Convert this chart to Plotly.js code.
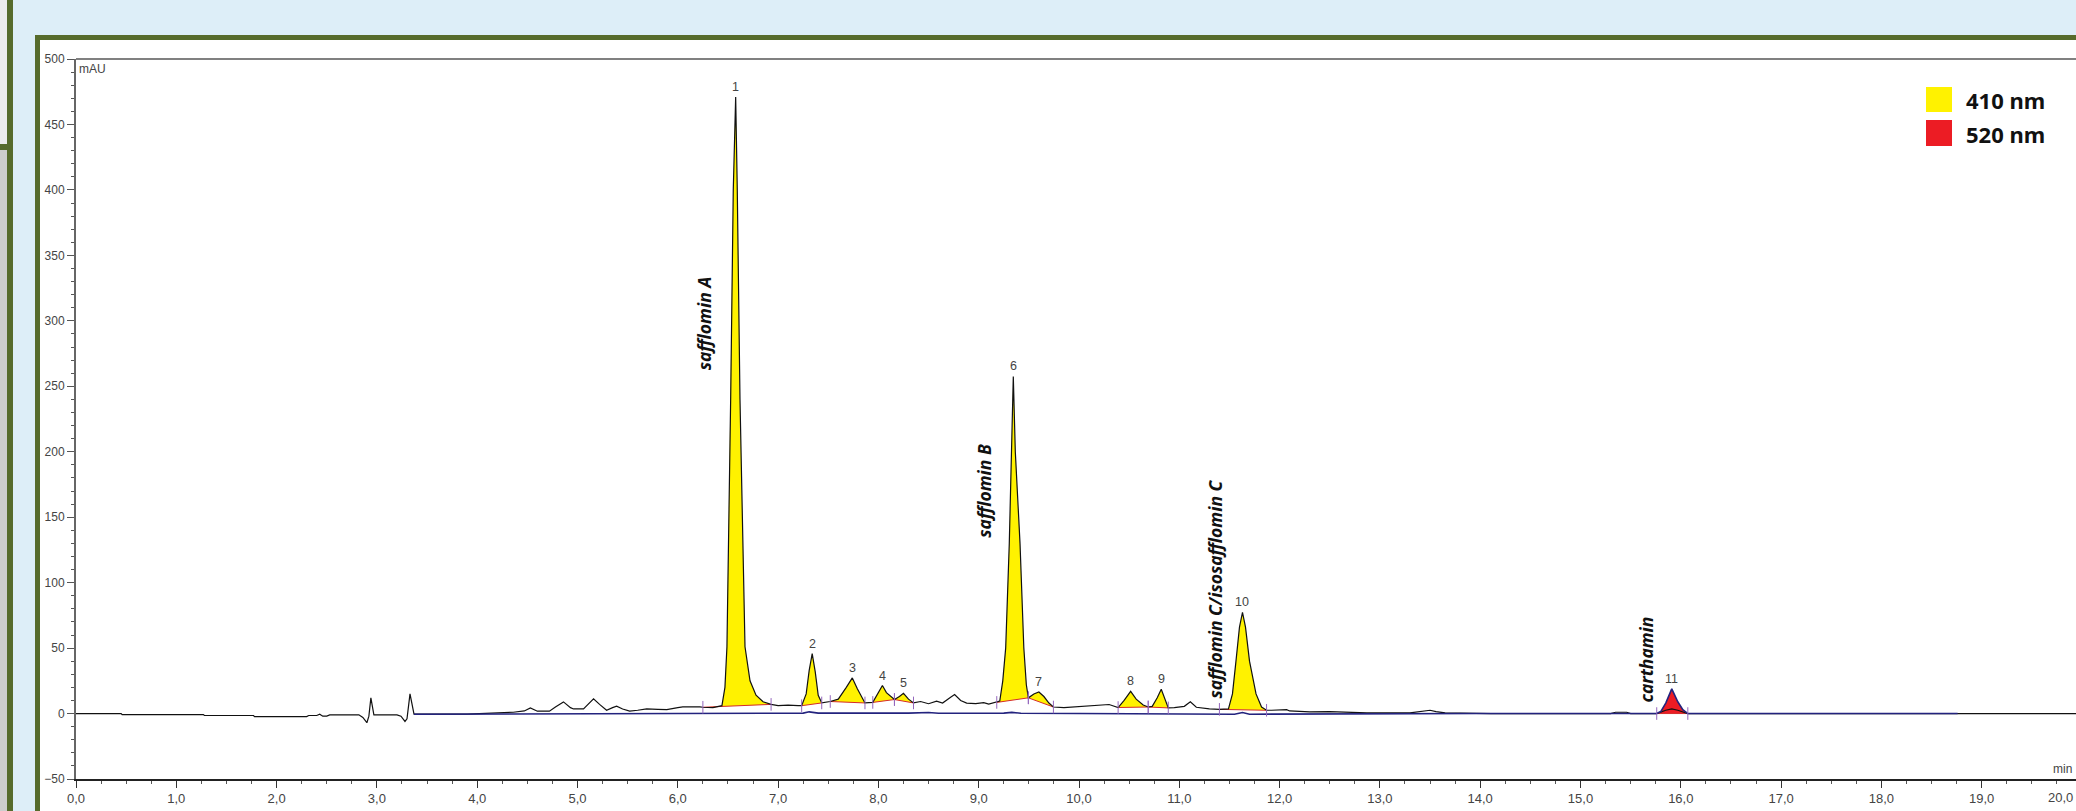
<!DOCTYPE html>
<html>
<head>
<meta charset="utf-8">
<script src="https://cdn.plot.ly/plotly-3.0.1.min.js"></script>
<style>html,body{margin:0;padding:0;background:#ddeef8;}#chart{width:2076px;height:811px;}</style>
</head>
<body>
<div id="chart"></div>
<script>
// ---- Data: 410 nm signal (retention time in min, absorbance in mAU) ----
const t410 = [
  0.00,0.45,0.46,1.27,1.28,1.77,1.78,2.30,2.32,2.40,
  2.43,2.46,2.50,2.53,2.82,2.86,2.90,2.92,2.94,2.95,
  2.97,3.20,3.24,3.28,3.30,3.33,3.35,3.37,3.90,4.20,
  4.36,4.47,4.53,4.60,4.72,4.78,4.86,4.93,4.96,5.06,
  5.12,5.16,5.22,5.29,5.35,5.39,5.45,5.52,5.60,5.69,
  5.80,5.89,6.00,6.05,6.22,6.25,6.35,6.44,6.47,6.49,
  6.527,6.553,6.577,6.593,6.62,6.67,6.72,6.78,6.85,6.93,
  7.00,7.10,7.20,7.235,7.28,7.31,7.34,7.37,7.40,7.435,
  7.52,7.60,7.68,7.74,7.79,7.84,7.866,7.944,8.00,8.04,
  8.08,8.16,8.21,8.25,8.30,8.35,8.42,8.50,8.58,8.64,
  8.72,8.76,8.82,8.88,8.97,9.05,9.10,9.18,9.21,9.24,
  9.269,9.305,9.325,9.345,9.365,9.412,9.45,9.475,9.495,9.55,
  9.60,9.65,9.70,9.745,9.85,9.95,10.10,10.22,10.30,10.39,
  10.45,10.515,10.57,10.64,10.69,10.73,10.78,10.82,10.86,10.89,
  10.95,11.05,11.11,11.17,11.30,11.40,11.49,11.53,11.565,11.60,
  11.63,11.66,11.70,11.765,11.82,11.87,11.92,12.00,12.07,12.10,
  12.30,12.50,12.87,13.30,13.45,13.50,13.56,13.65,14.11,15.30,
  15.35,15.46,15.50,15.76,15.85,15.91,15.97,16.07,20.00
];
const mAU410 = [
  0,0,-0.8,-0.8,-1.5,-1.5,-2.3,-2.3,-1.5,-1.5,
  -0.5,-2.0,-2.0,-1.0,-1.0,-3,-7,-2,12,8,
  -1,-1,-2,-6,-4,15,6,-0.5,-0.5,0.5,
  1.0,2.0,4.3,1.8,1.8,5,8.9,4.5,3.5,3.5,
  8,11.2,7,2.5,4.5,5.6,3.5,1.8,2.5,3.6,
  3.2,3.0,4.5,5.1,5.1,4.8,4.5,6,20,51,
  240,400,471,400,240,51,25,14,9,7,
  6,6.5,6,6,15,33,45.8,32,14,8.1,
  9.2,11,20,27.2,19,11,8.1,8.5,16,21.4,
  16,10.7,13,15.5,11,8.1,9.2,7.5,9.5,8.0,
  12.5,14.5,10,8,7.6,8.3,7.2,8.5,9.5,25,
  50,130,200,257.5,200,130,50,22,12,15,
  16.5,13,8,5,4.5,5,5.5,6.5,6.9,4.6,
  10,17,11,6.5,5,5.5,12,18.5,10,4.3,
  4.5,5.5,8.9,4.8,3.6,3.2,3.5,15,40,66,
  77.3,66,40,15,5,2.5,2.5,2.5,3.0,2.0,
  1.2,1.5,0.5,0.5,2,2.5,1.5,0.5,0,0,
  1.0,1.0,0,0,2.5,3.6,2.5,0,0
];

// ---- Data: 520 nm signal ----
const t520 = [3.37,4.00,5.00,6.50,7.25,7.31,7.40,8.30,8.50,8.60,9.25,9.33,9.42,10.00,11.00,11.55,11.63,11.70,14.00,15.76,15.80,15.85,15.91,15.97,16.02,16.07,18.76];
const mAU520 = [-0.5,-0.3,-0.2,0,0.3,1.3,0.3,0.3,0.8,0.2,0.3,0.9,0.2,0,-0.5,-0.5,0.8,-0.5,0,0,1.5,8,18.8,9,3,0,0];

// ---- Integrated peaks ----
const peakNumbers = [1,2,3,4,5,6,7,8,9,10,11];
const peakStart   = [6.25,7.235,7.52,7.944,8.16,9.18,9.495,10.39,10.69,11.40,15.76];
const peakEnd     = [6.93,7.435,7.866,8.16,8.35,9.495,9.745,10.69,10.89,11.87,16.07];
const peakChannel = ['410','410','410','410','410','410','410','410','410','410','520'];

// ---- Compound names ----
const compoundNames = ['safflomin A','safflomin B','safflomin C/isosafflomin C','carthamin'];
const compoundRT    = [6.27, 9.05, 11.36, 15.65];
const compoundLabelY = [298, 170, 95, 41];

// ---- Legend ----
const legendLabels = ['410 nm','520 nm'];
const legendColors = ['#fff200','#ec1c24'];

// ---------------------------------------------------------------
const W = 2076, H = 811, ML = 76, MR = 0, MT = 59, MB = 32;
const PW = W - ML - MR, PH = H - MT - MB;
const px = x => (x - ML) / PW;          // pixel -> paper x
const py = y => (H - MB - y) / PH;      // pixel -> paper y

function segment(ts, vs, a, b) {
  const x = [], y = [];
  for (let i = 0; i < ts.length; i++) {
    if (ts[i] >= a - 1e-9 && ts[i] <= b + 1e-9) { x.push(ts[i]); y.push(vs[i]); }
  }
  return {x, y};
}

const traces = [];
const annotations = [];
const tickX = [], tickY = [];

peakNumbers.forEach((n, i) => {
  const is410 = peakChannel[i] === '410';
  const seg = is410 ? segment(t410, mAU410, peakStart[i], peakEnd[i])
                    : segment(t520, mAU520, peakStart[i], peakEnd[i]);
  traces.push({
    x: seg.x, y: seg.y, type: 'scatter', mode: 'lines', fill: 'toself',
    fillcolor: is410 ? legendColors[0] : legendColors[1],
    line: {width: 0}, hoverinfo: 'skip', showlegend: false
  });
  const last = seg.x.length - 1;
  traces.push({
    x: [seg.x[0], seg.x[last]], y: [seg.y[0], seg.y[last]],
    type: 'scatter', mode: 'lines', line: {color: '#d42a2a', width: 1},
    hoverinfo: 'skip', showlegend: false
  });
  tickX.push(seg.x[0], seg.x[last]);
  tickY.push(seg.y[0], seg.y[last]);
  let k = 0;
  seg.y.forEach((v, j) => { if (v > seg.y[k]) k = j; });
  annotations.push({
    x: seg.x[k], y: seg.y[k], xref: 'x', yref: 'y', text: String(n),
    showarrow: false, yanchor: 'bottom', xanchor: 'center', yshift: 1,
    font: {family: 'Liberation Sans, Arial, sans-serif', size: 12.5, color: '#444'}
  });
});

traces.push({
  x: t410, y: mAU410, type: 'scatter', mode: 'lines',
  line: {color: '#111', width: 1.2}, hoverinfo: 'skip', showlegend: false
});
traces.push({
  x: t520, y: mAU520, type: 'scatter', mode: 'lines',
  line: {color: '#23237e', width: 1.6}, hoverinfo: 'skip', showlegend: false
});
traces.push({
  x: tickX, y: tickY, type: 'scatter', mode: 'markers',
  marker: {symbol: 'line-ns-open', size: 9, line: {color: '#5a5aa8', width: 1}},
  hoverinfo: 'skip', showlegend: false
});

compoundNames.forEach((name, i) => {
  annotations.push({
    x: compoundRT[i], y: compoundLabelY[i], xref: 'x', yref: 'y', text: name,
    showarrow: false, textangle: -90, xanchor: 'center', yanchor: 'middle',
    font: {family: 'Noto Sans, sans-serif', size: 17.5, color: '#111', weight: 'bold', style: 'italic'}
  });
});

// axis unit labels
annotations.push({x: 0, y: 1, xref: 'paper', yref: 'paper', text: 'mAU', showarrow: false,
  xanchor: 'left', yanchor: 'top', xshift: 1, yshift: -1,
  font: {family: 'Liberation Sans, Arial, sans-serif', size: 12, color: '#444'}});
annotations.push({x: 1, y: 0, xref: 'paper', yref: 'paper', text: 'min', showarrow: false,
  xanchor: 'right', yanchor: 'bottom', xshift: -2, yshift: 1,
  font: {family: 'Liberation Sans, Arial, sans-serif', size: 12, color: '#444'}});
annotations.push({x: 1, y: 0, xref: 'paper', yref: 'paper', text: '20,0', showarrow: false,
  xanchor: 'right', yanchor: 'top', xshift: -1, yshift: -9,
  font: {family: 'Liberation Sans, Arial, sans-serif', size: 13, color: '#444'}});

// legend text
const legendRows = [100, 134];
legendLabels.forEach((lab, i) => {
  annotations.push({x: px(1964), y: py(legendRows[i]), xref: 'paper', yref: 'paper', text: lab,
    showarrow: false, xanchor: 'left', yanchor: 'middle',
    font: {family: 'Noto Sans, sans-serif', size: 22, color: '#111', weight: 'bold'}});
});

const green = '#566b2c';
const shapes = [
  {type: 'rect', xref: 'paper', yref: 'paper', layer: 'below', x0: px(0), x1: px(7), y0: py(811), y1: py(150), fillcolor: '#cdcdcd', line: {width: 0}},
  {type: 'rect', xref: 'paper', yref: 'paper', layer: 'below', x0: px(0), x1: px(7), y0: py(150), y1: py(0), fillcolor: '#ececec', line: {width: 0}},
  {type: 'rect', xref: 'paper', yref: 'paper', layer: 'below', x0: px(0), x1: px(9), y0: py(150), y1: py(144), fillcolor: green, line: {width: 0}},
  {type: 'rect', xref: 'paper', yref: 'paper', layer: 'below', x0: px(7), x1: px(13), y0: py(811), y1: py(0), fillcolor: green, line: {width: 0}},
  {type: 'rect', xref: 'paper', yref: 'paper', layer: 'below', x0: px(35), x1: px(2076), y0: py(811), y1: py(35), fillcolor: green, line: {width: 0}},
  {type: 'rect', xref: 'paper', yref: 'paper', layer: 'below', x0: px(40), x1: px(2076), y0: py(811), y1: py(40), fillcolor: '#ffffff', line: {width: 0}},
  {type: 'line', xref: 'paper', yref: 'paper', x0: 0, x1: 1, y0: 1, y1: 1, line: {color: '#808080', width: 2}},
  {type: 'rect', xref: 'paper', yref: 'paper', x0: px(1926), x1: px(1952), y0: py(112), y1: py(87), fillcolor: legendColors[0], line: {width: 0}},
  {type: 'rect', xref: 'paper', yref: 'paper', x0: px(1926), x1: px(1952), y0: py(146), y1: py(120), fillcolor: legendColors[1], line: {width: 0}}
];

const tickFont = {family: 'Liberation Sans, Arial, sans-serif', size: 13, color: '#444'};
const layout = {
  width: W, height: H,
  margin: {l: ML, r: MR, t: MT, b: MB, pad: 0},
  paper_bgcolor: '#ddeef8',
  plot_bgcolor: 'rgba(0,0,0,0)',
  separators: ',.',
  showlegend: false,
  xaxis: {
    range: [0, PW / 100.3], tickmode: 'linear', tick0: 0, dtick: 1, tickformat: '.1f',
    ticks: 'outside', ticklen: 7, tickwidth: 1, tickcolor: '#333',
    showline: true, linecolor: '#222', linewidth: 1.5,
    showgrid: false, zeroline: false, tickfont: tickFont,
    minor: {dtick: 0.25, tick0: 0, ticks: 'outside', ticklen: 3, tickcolor: '#555', showgrid: false}
  },
  yaxis: {
    range: [-50, 500], tickmode: 'linear', tick0: 0, dtick: 50,
    ticks: 'outside', ticklen: 7, tickwidth: 1, tickcolor: '#555',
    showline: true, linecolor: '#666', linewidth: 2,
    showgrid: false, zeroline: false,
    tickfont: {family: 'Liberation Sans, Arial, sans-serif', size: 12, color: '#444'},
    minor: {dtick: 10, tick0: 0, ticks: 'outside', ticklen: 3, tickcolor: '#555', showgrid: false}
  },
  shapes: shapes,
  annotations: annotations
};

Plotly.newPlot('chart', traces, layout, {staticPlot: true, displayModeBar: false});
</script>
</body>
</html>
